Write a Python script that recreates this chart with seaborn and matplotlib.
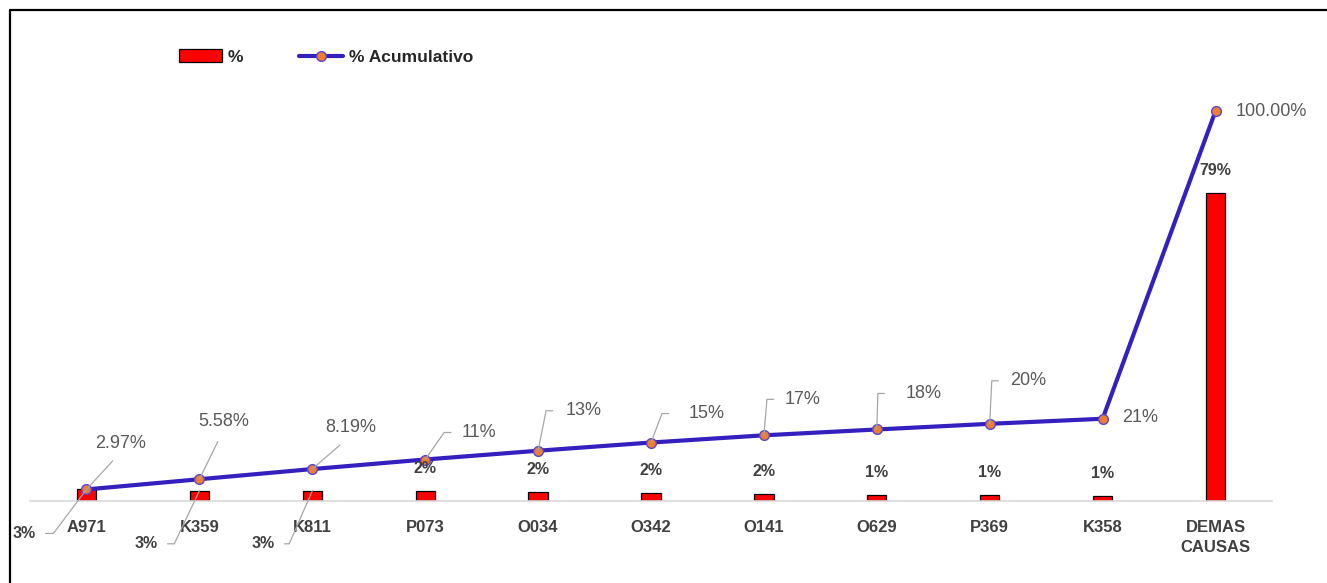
import numpy as np
import matplotlib
matplotlib.use('Agg')
import matplotlib.pyplot as plt
import seaborn as sns
from matplotlib.lines import Line2D
from matplotlib.patches import Patch

categorias = ['A971', 'K359', 'K811', 'P073', 'O034', 'O342', 'O141', 'O629', 'P369', 'K358', 'DEMAS\nCAUSAS']
porcentaje = [2.97, 2.61, 2.61, 2.45, 2.25, 2.10, 1.85, 1.50, 1.45, 1.30, 78.91]
acumulado = [2.97, 5.58, 8.19, 10.64, 12.89, 14.99, 16.84, 18.34, 19.79, 21.09, 100.0]
etiquetas_acum = ['2.97%', '5.58%', '8.19%', '11%', '13%', '15%', '17%', '18%', '20%', '21%', '100.00%']
etiquetas_pct = ['3%', '3%', '3%', '2%', '2%', '2%', '2%', '1%', '1%', '1%', '79%']

ROJO = '#FF0000'
AZUL = '#3320BE'
NARANJA = '#ED7D31'
GRIS = '#595959'
GRIS_OSC = '#404040'
GUIA = '#A6A6A6'
PX = 0.72  # pixeles -> puntos a dpi 100

sns.set_style('white')
plt.rcParams['font.family'] = ['Liberation Sans', 'DejaVu Sans']

fig = plt.figure(figsize=(13.27, 5.83), dpi=100)
ax = fig.add_axes([30 / 1327, 82 / 583, 1242 / 1327, (501 - 72) / 583])

x = np.arange(len(categorias))
y_pct = np.array(porcentaje) / 100
y_acum = np.array(acumulado) / 100

sns.barplot(x=categorias, y=y_pct, color=ROJO, width=0.17, edgecolor='black',
            linewidth=0.9, saturation=1, ax=ax, zorder=2)
sns.lineplot(x=x, y=y_acum, color=AZUL, linewidth=3, marker='o', markersize=7,
             markerfacecolor=NARANJA, markeredgecolor='#5A46D0', markeredgewidth=1.0,
             ax=ax, zorder=3)

ax.set_xlim(-0.5, len(categorias) - 0.5)
ax.set_ylim(0, 1.1)
ax.set_yticks([])
ax.set_xlabel('')
ax.set_ylabel('')
for s in ['top', 'right', 'left']:
    ax.spines[s].set_visible(False)
ax.spines['bottom'].set_color('#D9D9D9')
ax.spines['bottom'].set_linewidth(1.2)
ax.tick_params(axis='x', length=0, pad=14)
for t in ax.get_xticklabels():
    t.set_fontweight('bold')
    t.set_fontsize(12)
    t.set_color(GRIS_OSC)
    t.set_linespacing(1.35)

# etiquetas de la linea acumulada
# recta: (dx, dy del borde inferior del texto, recorte de la guia en px)
rectas = {0: (34, 37, 7), 1: (24, 49, 9), 2: (38, 33, 9)}
# codo: (dx codo, dy codo, borde izquierdo del texto) en px respecto al punto
codos = {3: (19, 27, 36), 4: (8, 40, 28), 5: (11, 29, 38), 6: (3, 36, 21),
         7: (1, 36, 29), 8: (2, 43, 20)}
# sin guia: (dx borde izquierdo, dy)
libres = {9: (19, 1), 10: (20, -1)}

for i in range(len(categorias)):
    if i in rectas:
        dx, dy, rec = rectas[i]
        ax.annotate(etiquetas_acum[i], (x[i], y_acum[i]), xytext=(dx, dy),
                    textcoords='offset pixels', ha='center', va='bottom',
                    fontsize=13, color=GRIS,
                    arrowprops=dict(arrowstyle='-', color=GUIA, lw=0.9,
                                    shrinkA=rec * PX, shrinkB=0, relpos=(0.5, 0)))
    elif i in codos:
        dx, dy, tl = codos[i]
        ang = np.degrees(np.arctan2(dy, dx))
        ax.annotate(etiquetas_acum[i], (x[i], y_acum[i]), xytext=(tl, dy),
                    textcoords='offset pixels', ha='left', va='center',
                    fontsize=13, color=GRIS,
                    arrowprops=dict(arrowstyle='-', color=GUIA, lw=0.9,
                                    shrinkA=max(tl - dx - 10, 2) * PX, shrinkB=0,
                                    relpos=(0, 0.5),
                                    connectionstyle=f'angle,angleA=0,angleB={ang:.1f},rad=0'))
    else:
        dx, dy = libres[i]
        ax.annotate(etiquetas_acum[i], (x[i], y_acum[i]), xytext=(dx, dy),
                    textcoords='offset pixels', ha='left', va='center',
                    fontsize=13, color=GRIS)

# etiquetas de las barras; las tres primeras con guia: (dx codo, dy codo, borde derecho del texto)
codos_pct = {0: (-33, -44, -51), 1: (-25, -53, -42), 2: (-23, -53, -38)}
for i in range(len(categorias)):
    if i in codos_pct:
        dx, dy, tr = codos_pct[i]
        ang = np.degrees(np.arctan2(-dy, -dx))
        ax.annotate(etiquetas_pct[i], (x[i], y_pct[i]), xytext=(tr, dy),
                    textcoords='offset pixels', ha='right', va='center',
                    fontsize=11.5, fontweight='bold', color=GRIS_OSC,
                    arrowprops=dict(arrowstyle='-', color=GUIA, lw=0.9,
                                    shrinkA=7 * PX, shrinkB=0, relpos=(1, 0.5),
                                    connectionstyle=f'angle,angleA=0,angleB={ang:.1f},rad=0'))
    else:
        ax.annotate(etiquetas_pct[i], (x[i], y_pct[i]), xytext=(0, 15),
                    textcoords='offset pixels', ha='center', va='bottom',
                    fontsize=11.5, fontweight='bold', color=GRIS_OSC)

# leyenda
handles = [
    Patch(facecolor=ROJO, edgecolor='black', linewidth=0.9),
    Line2D([0], [0], color=AZUL, linewidth=3, marker='o', markersize=7,
           markerfacecolor=NARANJA, markeredgecolor='#5A46D0'),
]
fig.legend(handles, ['%', '% Acumulativo'], loc='center left',
           bbox_to_anchor=(163 / 1327, 1 - 57 / 583), ncol=2, frameon=False,
           prop={'weight': 'bold', 'size': 12.5}, handlelength=2.5,
           handleheight=0.75, handletextpad=0.35, columnspacing=3.2)

# marco
fig.add_artist(Line2D([10 / 1327, 1], [1 - 10 / 583] * 2, transform=fig.transFigure,
                      color='black', linewidth=1.6))
fig.add_artist(Line2D([10 / 1327] * 2, [0, 1 - 10 / 583], transform=fig.transFigure,
                      color='black', linewidth=1.6))

fig.savefig('out.png', dpi=100)
